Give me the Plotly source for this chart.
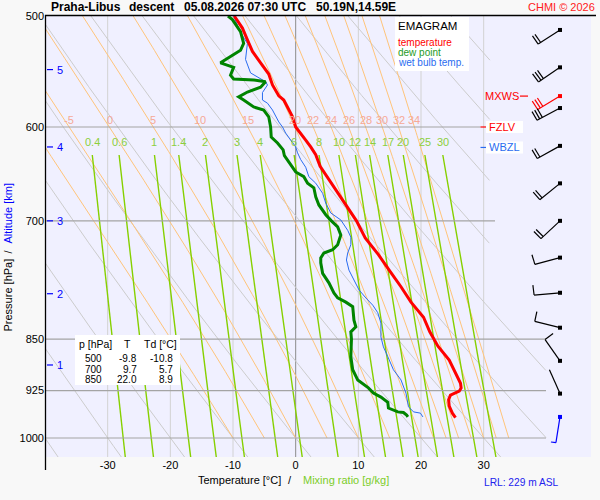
import math
import numpy as np
import plotly.graph_objects as go

# ---------------- data ----------------
title_station = "Praha-Libus"
title_kind = "descent"
title_time = "05.08.2026 07:30 UTC"
title_pos = "50.19N,14.59E"
credit = "CHMI © 2026"
lrl_text = "LRL: 229 m ASL"

temp_p = [500, 510, 520, 530, 540, 550, 560, 570, 574, 583, 590, 600, 606, 613, 620, 628, 640, 660, 680, 700,
          720, 740, 760, 780, 800, 820, 840, 850, 860, 880, 900, 914, 921, 926, 932, 939, 949, 960, 967]
temp_T = [-9.8, -8.5, -7.7, -6.9, -5.6, -4.3, -3.7, -2.7, -1.9, -1.1, -0.5, 0.0, 0.8, 1.6, 2.4, 3.2, 3.9, 5.9, 7.8, 9.7,
          11.1, 13.2, 15.0, 16.8, 18.4, 20.4, 21.4, 22.0, 22.7, 24.5, 25.6, 26.3, 26.4, 26.1, 24.7, 24.4, 24.5, 25.0, 25.5]

dew_p = [500, 503, 513, 523, 529, 536, 540, 544, 551, 554.5, 555.4, 557, 562, 566.5, 571, 574, 580.6, 583.5, 590, 600,
         610, 616, 623, 629, 641, 646, 651, 658, 663, 673, 682, 693, 700, 707, 716.5, 728, 734, 738, 744, 750,
         763, 775, 788, 794.5, 800, 806, 824, 833, 840, 850, 875, 894, 909, 921, 929, 935, 943, 952, 958, 959,
         963, 966]
dew_T = [-10.8, -10.1, -8.8, -8.3, -8.8, -10.8, -12.0, -9.9, -10.4, -9.9, -6.7, -4.8, -5.6, -7.7, -9.1, -8.3, -6.7, -5.1, -4.3, -4.0,
         -3.9, -2.9, -2.0, -1.8, -0.5, 0.0, 1.3, 1.9, 2.9, 3.2, 3.7, 4.8, 5.7, 6.7, 7.2, 6.7, 5.9, 4.5, 4.0, 4.0,
         4.3, 5.3, 6.1, 6.7, 8.0, 9.1, 9.3, 9.6, 8.8, 8.9, 8.8, 9.1, 9.9, 11.6, 12.4, 13.6, 14.7, 14.8, 16.3, 17.2,
         17.7, 17.9]

wet_p = [500, 514, 523, 537, 549, 557, 560, 567, 574, 577, 583.5, 590, 595, 600, 606, 613, 620, 626, 633, 641,
         651, 658, 669, 680, 691, 699, 711, 719, 728, 738, 746.5, 759, 771, 784, 794.5, 804, 814, 828, 847, 861,
         875, 894, 909, 929, 950, 958, 960, 966]
wet_T = [-9.9, -8.8, -7.7, -8.0, -7.2, -4.8, -4.5, -5.3, -5.3, -4.5, -3.7, -3.2, -2.7, -2.1, -1.6, -0.8, 0.0, 0.3, 0.8, 1.6,
         2.1, 3.2, 4.3, 4.8, 5.6, 7.2, 8.3, 8.8, 8.8, 8.3, 8.1, 8.5, 9.3, 10.1, 11.2, 12.3, 13.1, 13.6, 13.6, 14.0,
         14.7, 15.6, 16.8, 17.6, 18.0, 18.8, 19.9, 20.3]

wind_p = [511.6, 544, 570.3, 581.6, 618.9, 658.2, 700, 743.6, 787.8, 834.3, 881, 929.7, 966]
wind_dir = [237, 236, 239, 242, 241, 231, 227, 255, 265, 284, 325, 336, 189]
wind_kt = [20, 30, 30, 30, 20, 20, 20, 10, 10, 10, 10, 2, 5]

table_p = [500, 700, 850]
table_T = [-9.8, 9.7, 22.0]
table_Td = [-10.8, 5.7, 8.9]

alt_km = [1, 2, 3, 4, 5]
alt_p = [887, 789, 700, 620, 546]

level_names = ["MXWS", "FZLV", "WBZL"]
level_p = [570.3, 600.0, 620.5]

pressure_ticks = [500, 600, 700, 850, 925, 1000]
temp_ticks = [-30, -20, -10, 0, 10, 20, 30]
dry_theta = list(range(-40, 111, 10))
moist_thetaw = [-10, -5, 0, 5, 10, 15, 20, 22, 24, 26, 28, 30, 32, 34]
moist_labels = [-5, 0, 5, 10, 15, 20, 22, 24, 26, 28, 30, 32, 34]
mixing_ratios = [0.4, 0.6, 1, 1.4, 2, 3, 4, 6, 8, 10, 12, 14, 17, 20, 25, 30]

# ---------------- geometry ----------------
W, H = 600, 500
ML, MR, MT, MB = 45, 9, 16, 43
PW, PH = W - ML - MR, H - MT - MB
XMIN = -40.0
PX_PER_DEG = 6.267
XMAX = XMIN + PW / PX_PER_DEG
PTOP = 500.0
PX_PER_LN = 608.8
PBOT = PTOP * math.exp(PH / PX_PER_LN)
FONT = "Liberation Sans, Arial, sans-serif"


def px_x(T):
    return ML + (T - XMIN) * PX_PER_DEG


def px_y(p):
    return MT + math.log(p / PTOP) * PX_PER_LN


def T_at_px(x):
    return XMIN + (x - ML) / PX_PER_DEG


def p_at_py(y):
    return PTOP * math.exp((y - MT) / PX_PER_LN)


def paper_x(x):
    return (x - ML) / PW


def paper_y(y):
    return 1 - (y - MT) / PH


# ---------------- thermodynamics ----------------
KAPPA = 0.2857
RD, CP, LV, EPS = 287.04, 1005.7, 2.501e6, 0.622


def es(tc):
    return 6.112 * np.exp(17.67 * tc / (tc + 243.5))


def dT_dlnp(T, p):
    e = es(T - 273.15)
    rs = EPS * e / (p - e)
    return (RD * T + LV * rs) / (CP + LV * LV * rs * EPS / (RD * T * T))


def moist(thw, p_arr):
    lnp = np.log(p_arr)
    T = thw + 273.15
    out = [T]
    for i in range(len(lnp) - 1):
        h = lnp[i + 1] - lnp[i]
        p0 = math.exp(lnp[i])
        pm = math.exp(lnp[i] + h / 2)
        p1 = math.exp(lnp[i + 1])
        k1 = dT_dlnp(T, p0)
        k2 = dT_dlnp(T + h * k1 / 2, pm)
        k3 = dT_dlnp(T + h * k2 / 2, pm)
        k4 = dT_dlnp(T + h * k3, p1)
        T = T + h * (k1 + 2 * k2 + 2 * k3 + k4) / 6
        out.append(T)
    return np.array(out) - 273.15


def dewpoint_of_w(w, p):
    e = w * p / (622.0 + w)
    L = np.log(e / 6.112)
    return 243.5 * L / (17.67 - L)


fig = go.Figure()


def add_line(xs, ys, color, width):
    fig.add_trace(go.Scatter(x=xs, y=ys, mode="lines", line=dict(color=color, width=width),
                             hoverinfo="skip", showlegend=False))


# vertical temperature grid
for t in temp_ticks:
    add_line([t, t], [PTOP, PBOT], "#8c8c8c" if t == 0 else "#d2d2d2", 1)

# dry adiabats
p_dense = np.exp(np.linspace(np.log(PTOP), np.log(PBOT), 500))
xs, ys = [], []
for th in dry_theta:
    Tline = (th + 273.15) * (p_dense / 1000.0) ** KAPPA - 273.15
    lim = 31.0 if th >= 60 else 40.0
    for Ti, pi in zip(Tline, p_dense):
        if XMIN - 8 <= Ti <= lim:
            xs.append(float(Ti)); ys.append(float(pi))
        elif xs and xs[-1] is not None:
            xs.append(None); ys.append(None)
    xs.append(None); ys.append(None)
add_line(xs, ys, "#cccccc", 1)

# moist adiabats (from 1000 hPa upward)
p_moist = np.exp(np.linspace(np.log(1000.0), np.log(PTOP), 160))
moist_T = {}
xs, ys = [], []
for thw in moist_thetaw:
    Tm = moist(thw, p_moist)
    moist_T[thw] = Tm
    xs += list(Tm) + [None]
    ys += list(p_moist) + [None]
add_line(xs, ys, "#ffc47a", 1)

# mixing ratio lines
MIX_TOP = p_at_py(155)
p_mix = np.exp(np.linspace(np.log(MIX_TOP), np.log(PBOT), 80))
xs, ys = [], []
for w in mixing_ratios:
    xs += list(dewpoint_of_w(w, p_mix)) + [None]
    ys += list(p_mix) + [None]
add_line(xs, ys, "#86d000", 1.4)

# horizontal pressure lines
for p in pressure_ticks[1:]:
    xend = {600: 480.5, 700: 495}.get(p, 546)
    add_line([XMIN, T_at_px(xend)], [p, p], "#a4a4a4", 1.2)

# profiles
add_line(wet_T, wet_p, "#2a6cf0", 1)
add_line(dew_T, dew_p, "#008400", 3)
add_line(temp_T, temp_p, "#ff0000", 3)

# wind barbs
STATION_X = 560
STAFF, FULL, HALF, GAP, ROT = 26, 10, 5, 3, math.radians(88)
for i, (p, d, s) in enumerate(zip(wind_p, wind_dir, wind_kt)):
    color = "black"
    if abs(p - level_p[0]) < 0.5:
        color = "#ff0000"
    if i == len(wind_p) - 1:
        color = "#0000ff"
    ux, uy = math.sin(math.radians(d)), -math.cos(math.radians(d))
    fx = ux * math.cos(ROT) - uy * math.sin(ROT)
    fy = ux * math.sin(ROT) + uy * math.cos(ROT)
    y0 = px_y(p)
    segs = [((0, 0), (ux * STAFF, uy * STAFF))]
    pos = STAFF
    for _ in range(s // 10):
        segs.append(((ux * pos, uy * pos), (ux * pos + fx * FULL, uy * pos + fy * FULL)))
        pos -= GAP
    if s % 10 >= 5:
        segs.append(((ux * pos, uy * pos), (ux * pos + fx * HALF, uy * pos + fy * HALF)))
    bx, by = [], []
    for (a, b) in segs:
        for (dx, dy) in (a, b):
            bx.append(T_at_px(STATION_X + dx))
            by.append(p_at_py(y0 + dy))
        bx.append(None); by.append(None)
    add_line(bx, by, color, 1.2)
    fig.add_trace(go.Scatter(x=[T_at_px(STATION_X)], y=[p], mode="markers",
                             marker=dict(symbol="square", size=4, color=color, line=dict(width=0)),
                             hoverinfo="skip", showlegend=False))

# altitude ticks
for km, p in zip(alt_km, alt_p):
    add_line([T_at_px(47), T_at_px(53)], [p, p], "#0000ff", 1.2)
    fig.add_annotation(text=str(km), x=T_at_px(56), y=math.log10(p), xref="x", yref="y",
                       showarrow=False, xanchor="left", yanchor="middle", borderpad=0,
                       font=dict(size=11, color="#0000ff", family=FONT))

# moist adiabat labels
p_lab = p_at_py(120)
for thw in moist_labels:
    Tl = float(np.interp(math.log(600), np.log(p_moist[::-1]), moist_T[thw][::-1]))
    fig.add_annotation(text=str(thw), x=Tl, y=math.log10(p_lab), xref="x", yref="y",
                       showarrow=False, borderpad=0, font=dict(size=11, color="#f6a996", family=FONT))

# mixing ratio labels
p_mlab = p_at_py(142)
for w in mixing_ratios:
    Tl = float(dewpoint_of_w(w, MIX_TOP))
    fig.add_annotation(text=f"{w:g}", x=Tl, y=math.log10(p_mlab), xref="x", yref="y",
                       showarrow=False, borderpad=0, font=dict(size=11, color="#8ccf3c", family=FONT))

shapes = []


def rect_px(x0, y0, x1, y1, fill="white"):
    shapes.append(dict(type="rect", xref="paper", yref="paper", x0=paper_x(x0), x1=paper_x(x1),
                       y0=paper_y(y0), y1=paper_y(y1), fillcolor=fill, line=dict(width=0), layer="above"))


def line_px(x0, y0, x1, y1, color, width):
    shapes.append(dict(type="line", xref="paper", yref="paper", x0=paper_x(x0), x1=paper_x(x1),
                       y0=paper_y(y0), y1=paper_y(y1), line=dict(color=color, width=width), layer="above"))


def text_px(text, x, y, size=11, color="black", xanchor="left", angle=0):
    fig.add_annotation(text=text, x=paper_x(x), y=paper_y(y), xref="paper", yref="paper",
                       showarrow=False, xanchor=xanchor, yanchor="middle", borderpad=0,
                       textangle=angle, font=dict(size=size, color=color, family=FONT))


# level markers on the right
level_colors = {"MXWS": "#ff0000", "FZLV": "#ff0000", "WBZL": "#2a6cf0"}
for name, p in zip(level_names, level_p):
    y = px_y(p)
    c = level_colors[name]
    if name == "MXWS":
        line_px(520, y, 528, y, c, 1.2)
        text_px(name, 502, y, 11, c, "center")
    else:
        rect_px(486, y - 6, 523, y + 6)
        line_px(480.5, y, 486, y, c, 1.2)
        text_px(name, 488, y, 11, c, "left")

# legend box
rect_px(395, 17, 469, 71)
text_px("EMAGRAM", 397, 26, 11.5, "black")
text_px("temperature", 397, 42.5, 10, "#ff0000")
text_px("dew point", 397, 52.5, 10, "#1e9a1e")
text_px("wet bulb temp.", 397, 62.5, 10, "#2a6cf0")

# table box
rect_px(75, 335, 180, 385)
text_px("p [hPa]", 78, 343.5, 10.5)
text_px("T", 127.5, 343.5, 10.5, xanchor="center")
text_px("Td [°C]", 143, 343.5, 10.5)
for k, (pp, tt, td) in enumerate(zip(table_p, table_T, table_Td)):
    yy = 358.5 + k * 10.6
    text_px(str(pp), 102.5, yy, 10, xanchor="right")
    text_px(f"{tt:.1f}", 137.5, yy, 10, xanchor="right")
    text_px(f"{td:.1f}", 173.5, yy, 10, xanchor="right")

# frame lines
line_px(45, 15.5, 596, 15.5, "black", 1.3)
line_px(45.5, 15, 45.5, 470, "black", 1.3)

# titles
text_px("<b>" + title_station + "</b>", 50, 7.5, 12)
text_px("<b>" + title_kind + "</b>", 128, 7.5, 12)
text_px("<b>" + title_time + "</b>", 183, 7.5, 12)
text_px("<b>" + title_pos + "</b>", 315, 7.5, 12)
text_px(credit, 596, 7.5, 11, "#ff2020", "right")

# axis titles
text_px("Temperature [°C]", 197, 479.5, 11)
text_px("/", 287, 479.5, 11)
text_px("Mixing ratio [g/kg]", 302, 479.5, 11, "#7ccd2a")
text_px(lrl_text, 483, 482.5, 10.2, "#2222ee")
text_px("Pressure [hPa]", 7.5, 295, 11, angle=-90, xanchor="center")
text_px("/", 7.5, 252, 11, angle=-90, xanchor="center")
text_px("Altitude [km]", 7.5, 213, 11, "#0000ff", angle=-90, xanchor="center")

fig.update_layout(
    width=W, height=H,
    margin=dict(l=ML, r=MR, t=MT, b=MB, pad=0, autoexpand=False),
    paper_bgcolor="#f8f8f8", plot_bgcolor="#f0f0ff",
    showlegend=False, shapes=shapes,
    xaxis=dict(range=[XMIN, XMAX], tickvals=temp_ticks, ticktext=[str(t) for t in temp_ticks],
               showgrid=False, zeroline=False, showline=False, ticks="", automargin=False,
               tickfont=dict(size=11, color="black", family=FONT), fixedrange=True),
    yaxis=dict(type="log", range=[math.log10(PBOT), math.log10(PTOP)], tickvals=pressure_ticks,
               ticktext=[str(p) for p in pressure_ticks], showgrid=False, zeroline=False, showline=False,
               ticks="", automargin=False, tickfont=dict(size=11, color="black", family=FONT),
               fixedrange=True),
)

fig.write_html("out.html", config={"displayModeBar": False})

# remove the default page margin so the figure sits at the window origin
with open("out.html", "r", encoding="utf-8") as fh:
    html = fh.read()
html = html.replace("<head>", "<head><style>html,body{margin:0;padding:0;overflow:hidden;}</style>", 1)
with open("out.html", "w", encoding="utf-8") as fh:
    fh.write(html)
